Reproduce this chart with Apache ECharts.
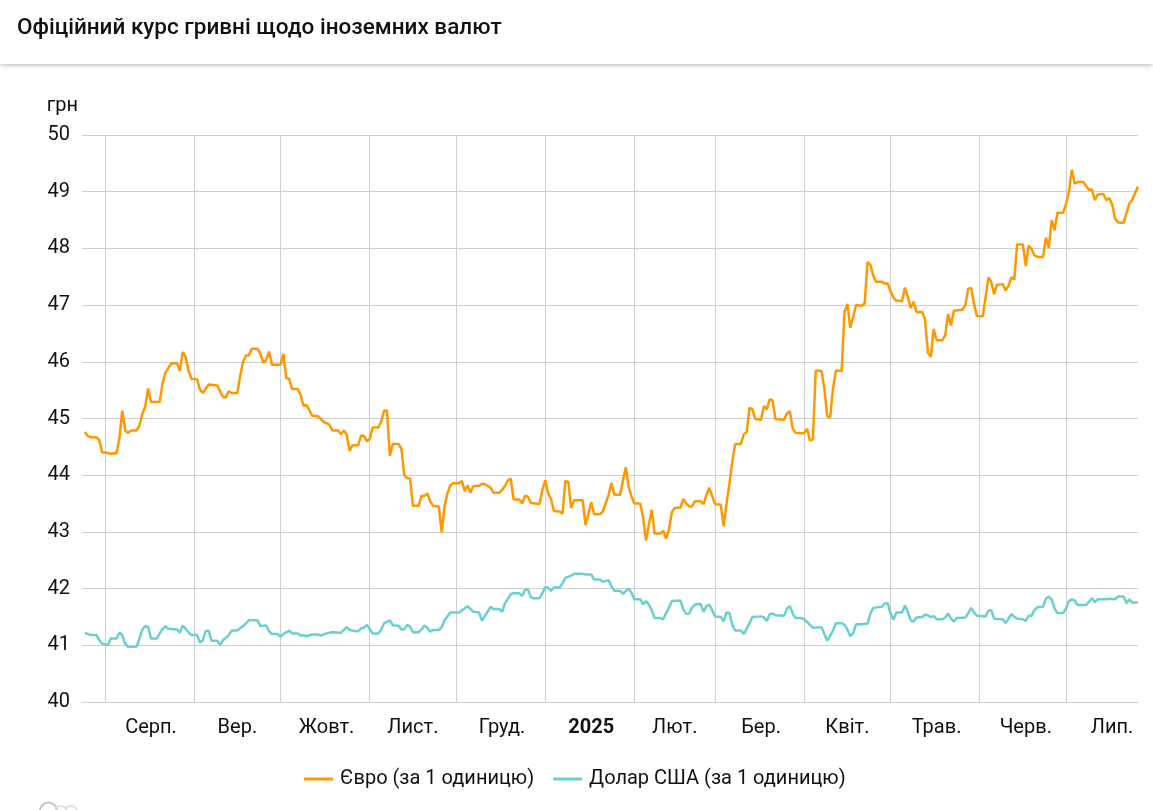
<!DOCTYPE html>
<html>
<head>
<meta charset="utf-8">
<title>Офіційний курс гривні</title>
<style>
  html, body { margin: 0; padding: 0; background: #fff; }
  #chart { width: 1153px; height: 810px; }
</style>
<script src="https://cdn.jsdelivr.net/npm/echarts@6/dist/echarts.min.js"></script>
</head>
<body>
<div id="chart"></div>
<script>
// first day on the axis, the day lists below count from here
const startDate = '2024-07-24';
const endDay = 367;

const monthStarts = ['2024-08-01','2024-09-01','2024-10-01','2024-11-01','2024-12-01','2025-01-01','2025-02-01','2025-03-01','2025-04-01','2025-05-01','2025-06-01','2025-07-01'];
const monthLabelDates = ['2024-08-17','2024-09-16','2024-10-17','2024-11-16','2024-12-17','2025-01-17','2025-02-15','2025-03-17','2025-04-16','2025-05-17','2025-06-17','2025-07-17'];
const monthLabels = ['Серп.','Вер.','Жовт.','Лист.','Груд.','2025','Лют.','Бер.','Квіт.','Трав.','Черв.','Лип.'];

const yTicksMin = 40;
const yTicksMax = 50;

const euroDays = [1,2,3,5,6,7,8,10,12,13,14,15,16,17,19,20,21,22,23,24,27,28,29,31,33,34,35,36,37,38,40,41,42,44,47,49,50,51,52,54,55,56,57,58,59,61,62,63,64,65,66,69,70,71,72,73,75,76,77,78,80,82,84,86,87,89,90,91,92,93,94,96,97,98,99,100,101,103,104,105,106,107,108,110,111,112,113,114,115,117,118,119,120,121,122,124,125,126,127,128,129,131,132,133,134,135,136,138,139,140,142,143,145,146,147,148,149,150,152,153,154,155,156,159,160,161,162,163,164,166,167,168,169,170,171,174,175,176,177,178,180,181,183,184,185,187,188,189,190,191,192,194,195,196,197,198,199,201,202,203,204,205,206,208,209,210,211,212,213,215,216,217,218,220,222,223,224,225,226,227,229,230,231,232,233,234,236,237,238,239,240,241,244,245,246,247,248,251,252,253,254,255,257,258,259,260,261,262,264,265,266,267,268,269,271,272,273,274,275,276,278,279,280,281,282,283,285,286,287,288,289,290,292,293,294,295,296,297,299,300,301,302,303,306,307,308,309,310,311,313,314,315,316,317,318,320,321,322,323,324,325,327,328,329,330,331,332,334,335,336,337,338,339,341,342,343,344,345,346,348,349,350,351,352,353,355,356,357,358,359,360,362,363,364,365,367];
const euroRates = [44.76,44.69,44.67,44.67,44.62,44.40,44.40,44.38,44.39,44.65,45.14,44.79,44.75,44.79,44.79,44.88,45.08,45.22,45.53,45.29,45.29,45.62,45.81,45.97,45.98,45.84,46.17,46.09,45.85,45.70,45.69,45.51,45.45,45.60,45.58,45.38,45.37,45.48,45.45,45.45,45.76,46.00,46.11,46.11,46.23,46.23,46.15,45.98,46.03,46.18,45.95,45.95,46.14,45.71,45.70,45.52,45.52,45.41,45.22,45.24,45.05,45.04,44.94,44.89,44.79,44.79,44.72,44.79,44.71,44.43,44.53,44.53,44.70,44.69,44.60,44.64,44.84,44.84,44.95,45.14,45.14,44.34,44.55,44.55,44.47,44.00,43.95,43.94,43.46,43.46,43.64,43.63,43.68,43.54,43.46,43.45,42.99,43.45,43.68,43.82,43.86,43.86,43.90,43.72,43.82,43.69,43.81,43.81,43.85,43.84,43.78,43.69,43.69,43.74,43.81,43.91,43.94,43.57,43.57,43.50,43.64,43.62,43.51,43.49,43.74,43.91,43.68,43.58,43.37,43.36,43.32,43.90,43.88,43.42,43.56,43.56,43.12,43.32,43.52,43.31,43.31,43.36,43.65,43.86,43.66,43.65,43.91,44.14,43.79,43.62,43.50,43.50,43.26,42.85,43.12,43.39,42.97,42.97,43.02,42.88,43.04,43.35,43.42,43.43,43.58,43.50,43.45,43.45,43.54,43.54,43.49,43.65,43.78,43.49,43.48,43.10,43.50,43.85,44.24,44.55,44.55,44.72,44.76,45.19,45.16,44.99,44.98,45.22,45.16,45.34,45.32,44.99,44.98,45.09,45.13,44.82,44.75,44.74,44.82,44.61,44.63,45.84,45.84,45.53,45.04,45.02,45.53,45.84,45.84,46.88,47.02,46.60,46.79,47.00,46.99,47.03,47.76,47.71,47.52,47.41,47.41,47.38,47.38,47.25,47.13,47.08,47.07,47.31,47.15,46.95,47.06,46.88,46.88,46.74,46.16,46.09,46.58,46.38,46.38,46.47,46.84,46.64,46.90,46.92,47.00,47.29,47.30,47.03,46.81,46.80,47.12,47.49,47.41,47.19,47.36,47.37,47.26,47.34,47.49,47.45,48.07,48.07,47.69,48.05,47.99,47.88,47.85,47.85,48.19,48.01,48.50,48.32,48.63,48.63,48.79,49.00,49.39,49.14,49.17,49.17,49.10,49.03,49.04,48.85,48.95,48.96,48.85,48.89,48.78,48.53,48.46,48.45,48.62,48.79,48.86,49.09];

const usdDays = [1,3,5,6,7,9,10,12,13,14,15,16,19,20,21,22,23,24,26,27,28,29,30,33,34,35,36,38,40,41,42,43,44,45,47,48,49,51,52,54,56,58,61,62,64,65,66,68,69,70,72,73,75,76,77,78,80,82,83,85,87,90,92,93,95,96,97,98,99,101,103,104,105,107,108,110,111,112,113,114,115,117,118,119,120,121,122,124,125,126,128,131,134,136,138,139,142,143,145,146,147,149,150,152,153,154,155,156,157,159,160,161,162,163,164,166,167,168,170,171,174,175,177,178,180,181,183,184,185,187,188,190,191,192,194,195,196,197,198,199,201,202,203,204,205,208,209,210,211,212,213,215,216,217,218,219,220,222,223,224,225,226,227,229,230,231,233,236,237,238,239,240,241,244,245,246,247,248,250,251,254,257,259,261,262,264,265,266,267,268,269,271,272,273,274,275,278,279,280,281,282,283,285,286,287,288,289,290,292,293,294,295,296,297,299,300,301,302,303,304,307,308,309,310,311,314,315,316,317,320,321,323,324,325,327,328,329,330,331,332,334,335,336,337,338,339,341,342,343,344,345,346,349,351,352,353,356,357,359,360,362,363,364,365,367];
const usdRates = [41.22,41.18,41.18,41.09,41.03,41.00,41.12,41.12,41.22,41.18,41.03,40.97,40.98,41.12,41.28,41.34,41.32,41.12,41.12,41.21,41.29,41.34,41.29,41.28,41.22,41.35,41.29,41.18,41.18,41.05,41.09,41.25,41.26,41.08,41.08,41.01,41.09,41.18,41.26,41.26,41.34,41.44,41.44,41.34,41.35,41.25,41.20,41.20,41.15,41.20,41.26,41.21,41.21,41.17,41.18,41.16,41.19,41.19,41.17,41.21,41.23,41.22,41.32,41.27,41.25,41.25,41.30,41.31,41.36,41.21,41.21,41.28,41.39,41.44,41.35,41.35,41.28,41.28,41.36,41.33,41.23,41.23,41.28,41.35,41.31,41.24,41.27,41.27,41.32,41.44,41.58,41.58,41.69,41.59,41.58,41.43,41.68,41.64,41.64,41.59,41.74,41.90,41.92,41.92,41.87,41.98,41.98,41.85,41.83,41.83,41.92,42.03,42.01,41.96,42.02,42.02,42.09,42.19,42.23,42.26,42.26,42.25,42.25,42.16,42.16,42.12,42.15,42.04,41.96,41.96,41.91,42.00,41.92,41.81,41.81,41.72,41.78,41.72,41.62,41.48,41.48,41.46,41.57,41.66,41.78,41.79,41.63,41.55,41.56,41.66,41.72,41.73,41.59,41.69,41.72,41.62,41.51,41.50,41.42,41.58,41.57,41.36,41.26,41.26,41.20,41.29,41.50,41.51,41.49,41.43,41.55,41.56,41.53,41.52,41.65,41.69,41.56,41.48,41.48,41.46,41.31,41.32,41.08,41.26,41.39,41.39,41.36,41.28,41.16,41.21,41.37,41.37,41.38,41.38,41.56,41.66,41.68,41.74,41.74,41.56,41.45,41.58,41.58,41.70,41.59,41.44,41.42,41.49,41.50,41.54,41.53,41.49,41.52,41.46,41.46,41.49,41.56,41.47,41.42,41.48,41.49,41.56,41.66,41.58,41.52,41.51,41.61,41.62,41.47,41.46,41.39,41.55,41.50,41.47,41.46,41.43,41.52,41.52,41.62,41.67,41.68,41.82,41.86,41.81,41.65,41.57,41.57,41.65,41.78,41.81,41.79,41.71,41.71,41.83,41.76,41.81,41.81,41.82,41.81,41.86,41.86,41.74,41.81,41.75,41.76];

const euroName = 'Євро (за 1 одиницю)';
const usdName = 'Долар США (за 1 одиницю)';
const titleText = 'Офіційний курс гривні щодо іноземних валют';
const yUnit = 'грн';

const DAY = 86400000;
const startTime = Date.parse(startDate);
const toDay = (date) => Math.round((Date.parse(date) - startTime) / DAY);
const toPoints = (days, rates) => days.map((day, i) => [day, rates[i]]);
const labelDays = monthLabelDates.map(toDay);

const textFont = 'Roboto, sans-serif';
const textColor = '#111';
const gridColor = '#cfcfcf';

const myChart = echarts.init(document.getElementById('chart'), null, { renderer: 'canvas' });
const option = {
  animation: false,
  backgroundColor: '#fff',
  title: {
    text: titleText,
    left: 12,
    top: 12,
    textStyle: { fontFamily: textFont, fontSize: 22.5, fontWeight: 500, color: '#111' }
  },
  legend: {
    left: 299,
    top: 764,
    icon: 'rect',
    itemWidth: 29,
    itemHeight: 3,
    itemGap: 19,
    textStyle: { fontFamily: textFont, fontSize: 20, color: textColor, padding: [0, 0, 0, 2] },
    data: [euroName, usdName]
  },
  grid: { left: 82, right: 15, top: 135, bottom: 108 },
  xAxis: {
    type: 'value',
    min: 0,
    max: endDay,
    axisLine: { show: true, lineStyle: { color: gridColor, width: 1 } },
    axisTick: {
      show: false,
      customValues: monthStarts.map(toDay)
    },
    splitLine: { show: true, lineStyle: { color: gridColor, width: 1 } },
    axisLabel: {
      show: true,
      customValues: labelDays,
      margin: 16,
      fontFamily: textFont,
      fontSize: 20,
      color: textColor,
      formatter: (value) => {
        const text = monthLabels[labelDays.indexOf(value)];
        return text === '2025' ? '{year|' + text + '}' : text;
      },
      rich: {
        year: { fontFamily: textFont, fontSize: 20, fontWeight: 'bold', color: textColor }
      }
    }
  },
  yAxis: {
    type: 'value',
    min: yTicksMin,
    max: yTicksMax,
    interval: 1,
    name: yUnit,
    nameLocation: 'end',
    nameGap: 19,
    nameTextStyle: { fontFamily: textFont, fontSize: 20, color: textColor, align: 'right', padding: [0, 4, 0, 0] },
    axisLine: { show: false },
    axisTick: { show: false },
    splitLine: { show: true, lineStyle: { color: gridColor, width: 1 } },
    axisLabel: { margin: 12, fontFamily: textFont, fontSize: 20, color: textColor }
  },
  series: [
    {
      name: euroName,
      type: 'line',
      showSymbol: false,
      data: toPoints(euroDays, euroRates),
      itemStyle: { color: '#ff9800' },
      lineStyle: { color: '#ff9800', width: 2.5 }
    },
    {
      name: usdName,
      type: 'line',
      showSymbol: false,
      data: toPoints(usdDays, usdRates),
      itemStyle: { color: '#6ccfcf' },
      lineStyle: { color: '#6ccfcf', width: 2.5 }
    }
  ],
  graphic: [
    {
      type: 'rect',
      silent: true,
      z: -1,
      shape: { x: 0, y: 0, width: 1153, height: 64 },
      style: { fill: '#fff', shadowBlur: 5, shadowColor: 'rgba(0,0,0,0.3)', shadowOffsetY: 1 }
    },
    { type: 'arc', silent: true, shape: { cx: 48.5, cy: 811, r: 8.5, startAngle: Math.PI, endAngle: 0 }, style: { fill: null, stroke: '#c4c4c4', lineWidth: 2 } },
    { type: 'arc', silent: true, shape: { cx: 61, cy: 812, r: 6, startAngle: Math.PI, endAngle: 0 }, style: { fill: null, stroke: '#e0e0e0', lineWidth: 2 } },
    { type: 'arc', silent: true, shape: { cx: 71, cy: 812, r: 6, startAngle: Math.PI, endAngle: 0 }, style: { fill: null, stroke: '#e0e0e0', lineWidth: 2 } }
  ]
};
myChart.setOption(option);
</script>
</body>
</html>
